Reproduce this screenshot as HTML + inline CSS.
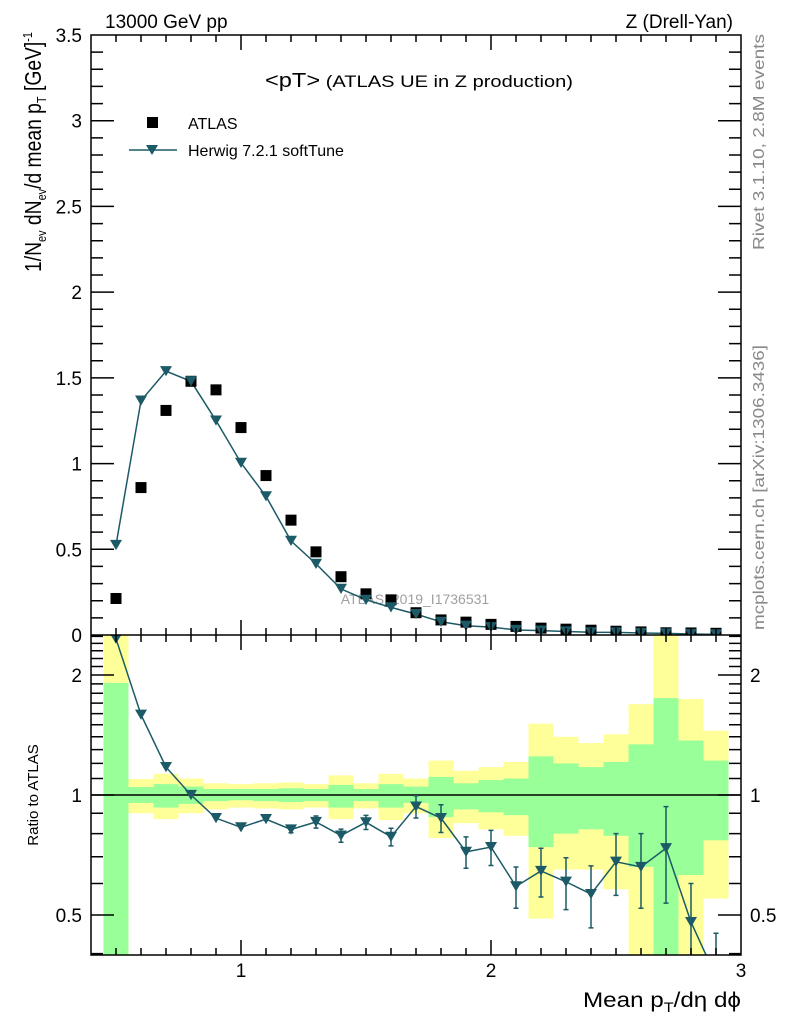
<!DOCTYPE html>
<html><head><meta charset="utf-8"><style>
html,body{margin:0;padding:0;background:#fff;}
svg{display:block;font-family:"Liberation Sans",Arial,sans-serif;}
</style></head><body>
<svg id="chart" width="786" height="1024" viewBox="0 0 786 1024">
<text x="105" y="28" font-size="19">13000 GeV pp</text>
<text x="733" y="28" font-size="19" text-anchor="end">Z (Drell-Yan)</text>
<text x="265" y="87" font-size="17" textLength="308" lengthAdjust="spacingAndGlyphs"><tspan font-size="20">&lt;pT&gt;</tspan> (ATLAS UE in Z production)</text>
<text x="415" y="604" font-size="14" fill="#a0a0a0" text-anchor="middle">ATLAS_2019_I1736531</text>
<text transform="translate(764,250) rotate(-90)" font-size="16" fill="#888" textLength="216" lengthAdjust="spacingAndGlyphs">Rivet 3.1.10,  2.8M events</text>
<text transform="translate(764,630) rotate(-90)" font-size="16" fill="#888" textLength="285" lengthAdjust="spacingAndGlyphs">mcplots.cern.ch [arXiv:1306.3436]</text>
<text transform="translate(41,272) rotate(-90)" font-size="23" textLength="240" lengthAdjust="spacingAndGlyphs">1/N<tspan font-size="13" dy="5">ev</tspan><tspan dy="-5"> dN</tspan><tspan font-size="13" dy="5">ev</tspan><tspan dy="-5">/d mean p</tspan><tspan font-size="13" dy="5">T</tspan><tspan dy="-5">  [GeV]</tspan><tspan font-size="13" dy="-9">-1</tspan></text>
<text transform="translate(38,795) rotate(-90)" font-size="15" text-anchor="middle">Ratio to ATLAS</text>
<text x="583" y="1007" font-size="21" textLength="158" lengthAdjust="spacingAndGlyphs">Mean p<tspan font-size="14" dy="5">T</tspan><tspan dy="-5">/dη dϕ</tspan></text>
<g>
<rect x="147" y="117" width="11" height="11" fill="#000"/>
<text x="188" y="129" font-size="16">ATLAS</text>
<line x1="129" y1="150" x2="177" y2="150" stroke="#1b5a66" stroke-width="1.5"/>
<path d="M146,145 L158,145 L152,155 Z" fill="#1b5a66"/>
<text x="188" y="156" font-size="16">Herwig 7.2.1 softTune</text>
</g>
<g id="plots"></g>
</svg>
<script>
const xCenters=[0.5,0.6,0.7,0.8,0.9,1.0,1.1,1.2,1.3,1.4,1.5,1.6,1.7,1.8,1.9,2.0,2.1,2.2,2.3,2.4,2.5,2.6,2.7,2.8,2.9];
const dataValues=[0.213,0.86,1.31,1.48,1.43,1.21,0.93,0.67,0.485,0.34,0.24,0.205,0.13,0.088,0.075,0.062,0.05,0.04,0.034,0.028,0.022,0.018,0.013,0.012,0.01];
const mcValues=[0.525,1.367,1.539,1.48,1.251,1.004,0.809,0.549,0.415,0.269,0.205,0.161,0.1216,0.077,0.054,0.0459,0.0295,0.0258,0.0206,0.0158,0.01496,0.01188,0.00956,0.00576,0.0035];
const mcRatioErr=[0.01,0.01,0.01,0.01,0.01,0.01,0.015,0.015,0.03,0.03,0.035,0.04,0.06,0.07,0.065,0.075,0.07,0.09,0.09,0.1,0.12,0.14,0.2,0.12,0.1];
const yellowUp=[3,1.097,1.13,1.10,1.07,1.065,1.07,1.075,1.065,1.12,1.07,1.13,1.10,1.22,1.15,1.175,1.21,1.51,1.40,1.35,1.42,1.69,3,1.74,1.45];
const greenUp=[1.91,1.047,1.065,1.05,1.035,1.035,1.035,1.04,1.035,1.06,1.035,1.065,1.05,1.11,1.07,1.09,1.10,1.25,1.20,1.175,1.21,1.34,1.75,1.37,1.22];
const greenDn=[0.3,0.955,0.93,0.95,0.965,0.97,0.965,0.96,0.965,0.93,0.965,0.93,0.955,0.88,0.92,0.905,0.89,0.74,0.80,0.82,0.79,0.66,0.3,0.63,0.77];
const yellowDn=[0.3,0.90,0.87,0.90,0.92,0.93,0.925,0.92,0.93,0.87,0.925,0.865,0.90,0.78,0.85,0.82,0.79,0.49,0.65,0.65,0.58,0.3,0.3,0.3,0.55];
const mainYTicks=["0","0.5","1","1.5","2","2.5","3","3.5"];
const ratioTicks=["0.5","1","2"];
const xTicks=["1","2","3"];

const NS="http://www.w3.org/2000/svg";
const L=91,R=741,T=35,M=635,B=955,BW=0.1;
const X=v=>L+(v-0.4)*250;
const Y=v=>M-v*(600/3.5);
const YR=v=>795-398.7*Math.log10(v);
const root=document.getElementById('plots');
function mk(tag,attrs,parent){const e=document.createElementNS(NS,tag);for(const k in attrs)e.setAttribute(k,attrs[k]);(parent||root).appendChild(e);return e;}

const bands=mk('g',{});


xCenters.forEach((c,i)=>{
  const x0=X(c-BW/2),w=BW*250;
  const yt=Math.max(YR(yellowUp[i]),M),yb=Math.min(YR(yellowDn[i]),B);
  const y1=mk('rect',{x:x0,y:yt,width:w,height:yb-yt,fill:'#ffff99'},bands);
  
  
  const gt=Math.max(YR(greenUp[i]),M),gb=Math.min(YR(greenDn[i]),B);
  const g1=mk('rect',{x:x0,y:gt,width:w,height:gb-gt,fill:'#99ff99'},bands);
  
  
});
const one=mk('line',{x1:L,x2:R,y1:YR(1),y2:YR(1),stroke:'#000','stroke-width':1.5});



const defs=mk('defs',{});
const cp1=mk('clipPath',{id:'cmain'},defs);mk('rect',{x:L,y:T,width:R-L,height:M-T},cp1);
const cp2=mk('clipPath',{id:'cratio'},defs);mk('rect',{x:L,y:M,width:R-L,height:B-M},cp2);

const tri=(x,y,s)=>`M${x-s},${y-s*0.85} L${x+s},${y-s*0.85} L${x},${y+s*0.85} Z`;
const gm=mk('g',{'clip-path':'url(#cmain)'});


const mcLine=mk('polyline',{points:xCenters.map((c,i)=>X(c)+','+Y(mcValues[i])).join(' '),fill:'none',stroke:'#1b5a66','stroke-width':1.5},gm);


xCenters.forEach((c,i)=>{
  const d=mk('rect',{x:X(c)-5.5,y:Y(dataValues[i])-5.5,width:11,height:11,fill:'#000'},gm);
  
  
  const m=mk('path',{d:tri(X(c),Y(mcValues[i]),6),fill:'#1b5a66'},gm);
  
  
});

const gr=mk('g',{'clip-path':'url(#cratio)'});


const ratios=xCenters.map((c,i)=>mcValues[i]/dataValues[i]);
const rl=mk('polyline',{points:xCenters.map((c,i)=>X(c)+','+YR(ratios[i])).join(' '),fill:'none',stroke:'#1b5a66','stroke-width':1.5},gr);


xCenters.forEach((c,i)=>{
  const r=ratios[i],e=mcRatioErr[i],x=X(c);
  const y1=YR(r+e),y2=YR(Math.max(r-e,0.01));
  if(y2-y1>6){
    const eb=mk('path',{d:`M${x},${y1} L${x},${y2} M${x-2.5},${y1} L${x+2.5},${y1} M${x-2.5},${y2} L${x+2.5},${y2}`,stroke:'#1b5a66','stroke-width':1.5,fill:'none'},gr);
    
    
  }
  const m=mk('path',{d:tri(x,YR(r),6),fill:'#1b5a66'},gr);
  
  
});

const ax=mk('g',{stroke:'#000','stroke-width':1.5,fill:'none'});


let d='';
d+=`M${L},${T} H${R} V${B} H${L} Z M${L},${M} H${R}`;
for(let k=0;k<=26;k++){const v=0.4+k*0.1;const x=X(v);const maj=Math.abs(v-Math.round(v))<1e-6;const len=maj?15:7;
  d+=`M${x},${T} v${len} M${x},${M} v${-len} M${x},${M} v${len} M${x},${B} v${-len}`;}
for(let k=0;k<=35;k++){const v=k*0.1;const y=Y(v);const maj=k%5===0;const len=maj?23:12;
  d+=`M${L},${y} h${len} M${R},${y} h${-len}`;}
const rt=[0.4,0.5,0.6,0.7,0.8,0.9,1,1.1,1.2,1.3,1.4,1.5,1.6,1.7,1.8,1.9,2,2.1,2.2,2.3,2.4,2.5];
rt.forEach(v=>{const y=YR(v);const maj=[0.5,1,2].includes(v);const len=maj?23:12;d+=`M${L},${y} h${len} M${R},${y} h${-len}`;});
mk('path',{d:d},ax);

const lab=mk('g',{'font-size':19,fill:'#000'});


mainYTicks.forEach(t=>{const e=mk('text',{x:82,y:Y(parseFloat(t))+7,'text-anchor':'end'},lab);e.textContent=t;
  
  });
ratioTicks.forEach(t=>{const y=YR(parseFloat(t))+7;
  const e=mk('text',{x:82,y:y,'text-anchor':'end'},lab);e.textContent=t;
  
  
  const e2=mk('text',{x:750,y:y,'text-anchor':'start'},lab);e2.textContent=t;
  
  });
xTicks.forEach(t=>{const e=mk('text',{x:X(parseFloat(t)),y:977,'text-anchor':'middle'},lab);e.textContent=t;
  
  });
</script>
</body></html>
